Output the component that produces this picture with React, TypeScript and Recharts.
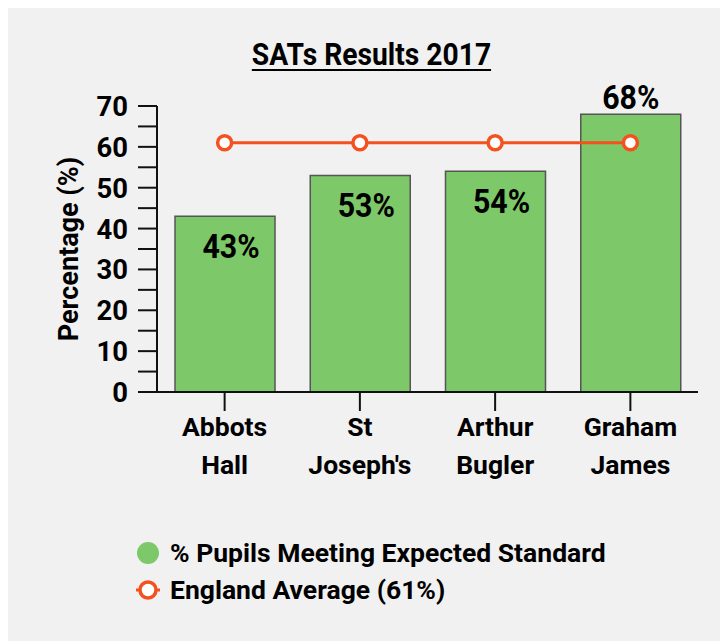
import React from "react";
import {
  ComposedChart,
  Bar,
  Line,
  XAxis,
  YAxis,
  Legend,
  LabelList,
  Label,
} from "recharts";

const categories = ["Abbots Hall", "St Joseph's", "Arthur Bugler", "Graham James"];
const pupilsPct = [43, 53, 54, 68];
const englandAvg = [61, 61, 61, 61];
const yTicks = [0, 5, 10, 15, 20, 25, 30, 35, 40, 45, 50, 55, 60, 65, 70];

const titleText = "SATs Results 2017";
const yAxisTitle = "Percentage (%)";
const seriesNames = ["% Pupils Meeting Expected Standard", "England Average (61%)"];

const GREEN = "#7dc868";
const ORANGE = "#f4511e";
const FONT = "Roboto, 'Noto Sans', sans-serif";

const data = categories.map((c, i) => ({
  name: c,
  pupils: pupilsPct[i],
  avg: englandAvg[i],
}));

function CText({ x, y, size, sx = 1, anchor = "middle", children }: any) {
  return (
    <text
      transform={`translate(${x},${y}) scale(${sx},1)`}
      textAnchor={anchor}
      fontFamily={FONT}
      fontWeight={700}
      fontSize={size}
      fill="#000"
    >
      {children}
    </text>
  );
}

function YTick(props: any) {
  const { x, y, payload } = props;
  if (payload.value % 10 !== 0) return <g />;
  return (
    <CText x={x} y={y + 10} size={28} sx={0.98} anchor="end">
      {payload.value}
    </CText>
  );
}

function XTick(props: any) {
  const { x, y, payload } = props;
  const s = String(payload.value);
  const idx = s.indexOf(" ");
  const l1 = idx >= 0 ? s.slice(0, idx) : s;
  const l2 = idx >= 0 ? s.slice(idx + 1) : "";
  return (
    <g>
      <CText x={x} y={y + 23} size={26.5}>
        {l1}
      </CText>
      <CText x={x} y={y + 61} size={26.5}>
        {l2}
      </CText>
    </g>
  );
}

function BarLabel(props: any) {
  const { x, y, width, value, index } = props;
  const above = value > englandAvg[index];
  const cx = x + width / 2 + (above ? 0 : 6);
  const cy = above ? y - 17 : y + 30;
  return (
    <CText x={cx} y={cy + 12} size={33} sx={0.92}>
      {`${value}%`}
    </CText>
  );
}

function YTitle(props: any) {
  const vb = props.viewBox || {};
  const cx = 61;
  const cy = vb.y + vb.height / 2;
  return (
    <text
      transform={`translate(${cx},${cy}) rotate(-90)`}
      textAnchor="middle"
      dominantBaseline="central"
      fontFamily={FONT}
      fontWeight={700}
      fontSize={27}
      fill="#000"
    >
      {yAxisTitle}
    </text>
  );
}

function LegendContent() {
  const rowStyle: React.CSSProperties = {
    display: "flex",
    alignItems: "center",
    height: 37,
  };
  const textStyle: React.CSSProperties = {
    fontFamily: FONT,
    fontWeight: 700,
    fontSize: 26.5,
    color: "#000",
    whiteSpace: "nowrap",
    marginLeft: 8,
  };
  return (
    <div>
      <div style={rowStyle}>
        <svg width={28} height={28}>
          <circle cx={14} cy={14} r={11} fill={GREEN} />
        </svg>
        <span style={textStyle}>{seriesNames[0]}</span>
      </div>
      <div style={rowStyle}>
        <svg width={28} height={28}>
          <line x1={2} y1={14} x2={26} y2={14} stroke={ORANGE} strokeWidth={3} />
          <circle cx={14} cy={14} r={8} fill="#fff" stroke={ORANGE} strokeWidth={3.5} />
        </svg>
        <span style={textStyle}>{seriesNames[1]}</span>
      </div>
    </div>
  );
}

export default function App() {
  return (
    <div
      style={{
        position: "relative",
        width: 720,
        height: 633,
        background: "#f1f1f1",
      }}
    >
      <div
        style={{
          position: "absolute",
          top: 28,
          left: 0,
          width: 727,
          textAlign: "center",
          fontFamily: FONT,
          fontWeight: 700,
          fontSize: 31,
          color: "#000",
          zIndex: 2,
        }}
      >
        <span
          style={{
            display: "inline-block",
            textDecoration: "underline",
            textDecorationThickness: 2,
            textUnderlineOffset: 4,
            transform: "scaleX(0.91)",
          }}
        >
          {titleText}
        </span>
      </div>
      <ComposedChart
        width={720}
        height={633}
        data={data}
        margin={{ top: 98, right: 30, left: 0, bottom: 149 }}
      >
        <XAxis
          dataKey="name"
          height={100}
          tickSize={19}
          tickMargin={2}
          interval={0}
          axisLine={{ stroke: "#111", strokeWidth: 2 }}
          tickLine={{ stroke: "#111", strokeWidth: 2 }}
          tick={<XTick />}
        />
        <YAxis
          width={149}
          domain={[0, 70]}
          ticks={yTicks}
          interval={0}
          tickSize={19}
          tickMargin={10}
          axisLine={{ stroke: "#111", strokeWidth: 2 }}
          tickLine={{ stroke: "#111", strokeWidth: 2 }}
          tick={<YTick />}
        >
          <Label content={<YTitle />} />
        </YAxis>
        <Bar
          dataKey="pupils"
          barSize={100}
          fill={GREEN}
          stroke="#555"
          strokeWidth={1.5}
          isAnimationActive={false}
        >
          <LabelList dataKey="pupils" content={<BarLabel />} />
        </Bar>
        <Line
          dataKey="avg"
          stroke={ORANGE}
          strokeWidth={3}
          dot={{ r: 7, fill: "#fff", stroke: ORANGE, strokeWidth: 3.5 }}
          activeDot={false}
          isAnimationActive={false}
        />
        <Legend
          layout="vertical"
          align="center"
          verticalAlign="middle"
          wrapperStyle={{ top: 526, left: 126, width: 560 }}
          content={<LegendContent />}
        />
      </ComposedChart>
    </div>
  );
}
